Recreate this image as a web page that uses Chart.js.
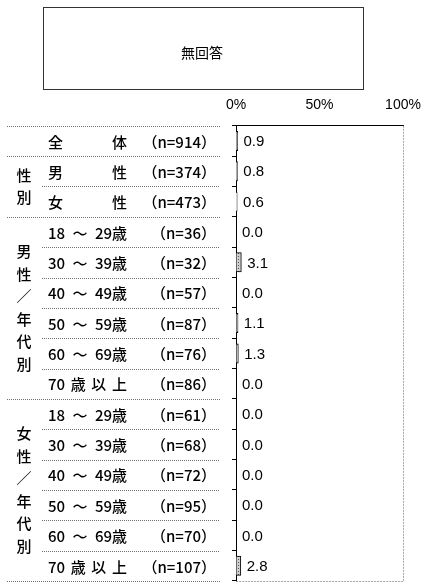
<!DOCTYPE html>
<html>
<head>
<meta charset="utf-8">
<script src="https://cdn.jsdelivr.net/npm/chart.js@4"></script>
<style>
  html, body { margin: 0; padding: 0; background: #fff; }
</style>
</head>
<body>
<canvas id="chart" width="424" height="584"></canvas>
<script>
// 行ラベル（スペースは均等割りの区切り）
const rowLabels = ['全 体', '男 性', '女 性',
  '18 ～ 29歳', '30 ～ 39歳', '40 ～ 49歳', '50 ～ 59歳', '60 ～ 69歳', '70 歳 以 上',
  '18 ～ 29歳', '30 ～ 39歳', '40 ～ 49歳', '50 ～ 59歳', '60 ～ 69歳', '70 歳 以 上'];
const nLabels = ['（n=914）', '（n=374）', '（n=473）',
  '（n=36）', '（n=32）', '（n=57）', '（n=87）', '（n=76）', '（n=86）',
  '（n=61）', '（n=68）', '（n=72）', '（n=95）', '（n=70）', '（n=107）'];
const values = [0.9, 0.8, 0.6, 0.0, 3.1, 0.0, 1.1, 1.3, 0.0, 0.0, 0.0, 0.0, 0.0, 0.0, 2.8];
const groupLabels = ['', '性別', '男性／年代別', '女性／年代別'];
const groupFirst = [0, 1, 3, 9];
const groupLast = [0, 2, 8, 14];
const xTicks = [0, 50, 100];
const legendLabel = '無回答';

const JP = '"Noto Sans CJK JP", sans-serif';
const canvas = document.getElementById('chart');

// 網掛けパターン
const pc = document.createElement('canvas');
pc.width = 3; pc.height = 3;
const pctx = pc.getContext('2d');
pctx.fillStyle = '#cfcfcf';
pctx.fillRect(0, 0, 3, 3);
pctx.fillStyle = '#555';
pctx.fillRect(1, 1, 1, 1);
const barFill = canvas.getContext('2d').createPattern(pc, 'repeat');

function dotLine(ctx, x0, x1, y) {
  ctx.save();
  ctx.strokeStyle = '#707070';
  ctx.lineWidth = 1;
  ctx.setLineDash([1, 1]);
  ctx.beginPath();
  ctx.moveTo(x0, Math.round(y) + 0.5);
  ctx.lineTo(x1, Math.round(y) + 0.5);
  ctx.stroke();
  ctx.restore();
}

// 左側の表
const tablePlugin = {
  id: 'table',
  afterDraw(chart) {
    const ctx = chart.ctx;
    const y = chart.scales.y;
    const rowH = y.getPixelForValue(1) - y.getPixelForValue(0);
    ctx.save();
    ctx.fillStyle = '#000';
    ctx.font = '500 15px ' + JP;
    ctx.textBaseline = 'middle';
    rowLabels.forEach((lab, i) => {
      const cy = y.getPixelForValue(i);
      const parts = lab.split(' ');
      const x0 = 48, x1 = 127;
      const widths = parts.map(p => ctx.measureText(p).width);
      const total = widths.reduce((a, b) => a + b, 0);
      const gap = parts.length > 1 ? (x1 - x0 - total) / (parts.length - 1) : 0;
      let x = x0;
      ctx.textAlign = 'left';
      parts.forEach((p, k) => { ctx.fillText(p, x, cy + 1); x += widths[k] + gap; });
      ctx.textAlign = 'right';
      ctx.fillText(nLabels[i], 216, cy + 1);
    });
    groupLabels.forEach((g, gi) => {
      const top = y.getPixelForValue(groupFirst[gi]) - rowH / 2;
      const bot = y.getPixelForValue(groupLast[gi]) + rowH / 2;
      dotLine(ctx, 7, 220, top);
      if (gi === groupLabels.length - 1) dotLine(ctx, 7, 220, bot);
      for (let r = groupFirst[gi] + 1; r <= groupLast[gi]; r++) {
        dotLine(ctx, g ? 42 : 7, 220, y.getPixelForValue(r) - rowH / 2);
      }
      if (g) {
        const chars = Array.from(g);
        const step = 22.5;
        const mid = (top + bot) / 2;
        ctx.textAlign = 'center';
        chars.forEach((c, k) => {
          ctx.fillText(c, 24, mid + (k - (chars.length - 1) / 2) * step);
        });
      }
    });
    ctx.restore();
  }
};

// 枠線（右・下は点線）と凡例ボックス
const framePlugin = {
  id: 'frame',
  afterDraw(chart) {
    const { ctx, chartArea: a } = chart;
    ctx.save();
    ctx.strokeStyle = '#a8a8a8';
    ctx.lineWidth = 1;
    ctx.setLineDash([2, 1]);
    ctx.beginPath();
    ctx.moveTo(Math.round(a.right) + 0.5, a.top);
    ctx.lineTo(Math.round(a.right) + 0.5, Math.round(a.bottom) + 0.5);
    ctx.lineTo(a.left, Math.round(a.bottom) + 0.5);
    ctx.stroke();
    ctx.setLineDash([]);
    ctx.strokeStyle = '#333';
    ctx.strokeRect(43.5, 7.5, 320, 82);
    ctx.fillStyle = '#000';
    ctx.font = '14px ' + JP;
    ctx.textAlign = 'center';
    ctx.textBaseline = 'middle';
    ctx.fillText(legendLabel, 202, 53);
    ctx.restore();
  }
};

// 数値ラベル
const valuePlugin = {
  id: 'values',
  afterDatasetsDraw(chart) {
    const ctx = chart.ctx;
    const meta = chart.getDatasetMeta(0);
    ctx.save();
    ctx.fillStyle = '#000';
    ctx.font = '15px "Liberation Sans", Arial, sans-serif';
    ctx.textAlign = 'left';
    ctx.textBaseline = 'middle';
    meta.data.forEach((bar, i) => {
      ctx.fillText(values[i].toFixed(1), bar.x + 6, bar.y + 1);
    });
    ctx.restore();
  }
};

new Chart(canvas, {
  type: 'bar',
  data: {
    labels: rowLabels,
    datasets: [{
      label: legendLabel,
      data: values,
      backgroundColor: barFill,
      borderColor: '#000',
      borderWidth: 1,
      borderSkipped: false,
      inflateAmount: 0.5,
      barThickness: 19
    }]
  },
  options: {
    indexAxis: 'y',
    responsive: false,
    animation: false,
    layout: { padding: { left: 232, right: 21, top: 85, bottom: 3 } },
    plugins: { legend: { display: false }, tooltip: { enabled: false } },
    scales: {
      x: {
        position: 'top',
        min: 0,
        max: 100,
        afterBuildTicks: s => { s.ticks = xTicks.map(v => ({ value: v })); },
        afterFit: s => { s.paddingLeft = 0; s.paddingRight = 0; },
        ticks: {
          callback: v => v + '%',
          color: '#000',
          padding: 12,
          maxRotation: 0,
          font: { family: '"Liberation Sans Narrow", "Liberation Sans", Arial, sans-serif', size: 14 }
        },
        grid: { display: false, drawTicks: false },
        border: { display: true, color: '#000', width: 1 }
      },
      y: {
        ticks: { display: false },
        grid: { drawOnChartArea: false, color: '#000', tickLength: 4, offset: true },
        border: { display: true, color: '#000', width: 1 }
      }
    }
  },
  plugins: [tablePlugin, framePlugin, valuePlugin]
});
</script>
</body>
</html>
